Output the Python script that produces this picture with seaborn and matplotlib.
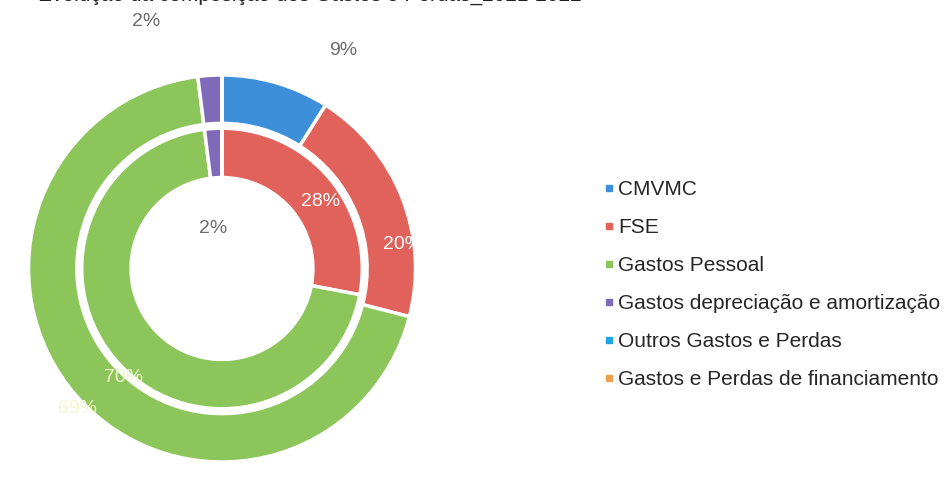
import matplotlib
matplotlib.use("Agg")
import matplotlib.pyplot as plt
from matplotlib.lines import Line2D
import numpy as np
import seaborn as sns

sns.set_theme(style="white")
plt.rcParams['font.family'] = ['Liberation Sans', 'DejaVu Sans']

# ---- data ----
categories = ["CMVMC", "FSE", "Gastos Pessoal",
              "Gastos depreciação e amortização",
              "Outros Gastos e Perdas",
              "Gastos e Perdas de financiamento"]
outer_values = [9, 20, 69, 2, 0, 0]
inner_values = [0, 28, 70, 2, 0, 0]
colors = ["#3D8FD9", "#E0625A", "#8CC55A", "#7E6AB8", "#1FA3E3", "#F0A04B"]
title = "Evolução da composição dos Gastos e Perdas_2021-2022"

W, H = 951, 487
fig = plt.figure(figsize=(W / 100, H / 100), dpi=100)

R_px = 193.5
cx, cy = 222, 268.5
lim = 1.45
half = lim * R_px
ax = fig.add_axes([(cx - half) / W, (H - cy - half) / H, 2 * half / W, 2 * half / H])

ax.pie(outer_values, radius=1.0, colors=colors, startangle=90,
       counterclock=False,
       wedgeprops=dict(width=0.25, edgecolor="white", linewidth=2.5))
ax.pie(inner_values, radius=0.725, colors=colors, startangle=90,
       counterclock=False,
       wedgeprops=dict(width=0.255, edgecolor="white", linewidth=2.5))
ax.set_xlim(-lim, lim)
ax.set_ylim(-lim, lim)
ax.set_aspect("auto")
ax.axis("off")


def label(r, ang_deg, txt, color):
    a = np.deg2rad(ang_deg)
    ax.text(r * np.cos(a), r * np.sin(a), txt, ha="center", va="center",
            fontsize=14, color=color)

# outer ring labels (Excel-style placements)
label(1.29, 61.0, f"{outer_values[0]}%", "#6b6b6b")
label(0.94, 7.5, f"{outer_values[1]}%", "white")
label(1.04, 224.0, f"{outer_values[2]}%", "#f3f7d0")
label(1.335, 107.0, f"{outer_values[3]}%", "#6b6b6b")
# inner ring labels
label(0.615, 34.0, f"{inner_values[1]}%", "white")
label(0.76, 228.0, f"{inner_values[2]}%", "#f3f7d0")
label(0.21, 103.0, f"{inner_values[3]}%", "#6b6b6b")

handles = [Line2D([0], [0], marker="s", linestyle="none", markersize=5,
                  markerfacecolor=c, markeredgecolor=c) for c in colors]
fig.legend(handles, categories, loc="upper left",
           bbox_to_anchor=(591 / W, 1 - 172 / H), frameon=False,
           fontsize=15, labelspacing=0.91, handletextpad=0.0,
           handlelength=0.9, labelcolor="#262626", borderaxespad=0)

fig.text(38 / W, 1 - 1 / H, title, ha="left", va="baseline",
         fontsize=15, color="#222222")

fig.savefig("out.png", dpi=100)
